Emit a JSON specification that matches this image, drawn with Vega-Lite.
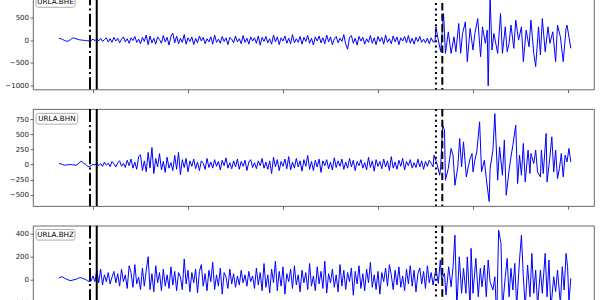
{
"$schema":"https://vega.github.io/schema/vega-lite/v6.json",
"background":"white",
"padding":{"left":0,"top":-10.5,"right":0,"bottom":0},
"spacing":19.6,
"bounds":"flush",
"config":{"view":{"stroke":"#444","strokeWidth":0.8},
"axis":{"labelFont":"DejaVu Sans","labelFontSize":7,"labelColor":"#222","tickColor":"#444","tickSize":3,"tickWidth":0.8,"labelPadding":1.5,"grid":false,"domain":false,"title":null,"labelOverlap":false,"labelFlush":false,"labelBound":false},
"axisY":{"minExtent":32,"maxExtent":32,"format":"d","labelOverlap":false},
"axisX":{"labels":false}},
"datasets":{
"picks":[{"t":-3.2,"kind":"P theoretical"},{"t":3.9,"kind":"P observed"},{"t":361,"kind":"S theoretical"},{"t":367.7,"kind":"S observed"}],
"bhe":[{"t":-36,"v":35},{"t":-34,"v":30},{"t":-32,"v":15},{"t":-30,"v":-10},{"t":-28,"v":-25},{"t":-26,"v":-20},{"t":-24,"v":5},{"t":-22,"v":40},{"t":-20,"v":45},{"t":-18,"v":30},{"t":-16,"v":15},{"t":-14,"v":5},{"t":-12,"v":0},{"t":-10,"v":-5},{"t":-8,"v":-10},{"t":-6,"v":-15},{"t":-4,"v":-20},{"t":-2,"v":-10},
{"t":0,"v":20},{"t":2,"v":-15},{"t":4,"v":30},{"t":6,"v":-20},{"t":8,"v":40},{"t":10,"v":-30},{"t":12,"v":10},{"t":14,"v":50},{"t":16,"v":-40},{"t":18,"v":30},{"t":20,"v":-50},{"t":22,"v":60},{"t":24,"v":-20},{"t":26,"v":40},{"t":28,"v":-60},{"t":30,"v":20},{"t":32,"v":70},{"t":34,"v":-40},{"t":36,"v":30},{"t":38,"v":-70},{"t":40,"v":50},{"t":42,"v":-10},{"t":44,"v":80},{"t":46,"v":-50},{"t":48,"v":20},{"t":50,"v":-80},{"t":52,"v":60},{"t":54,"v":-30},{"t":56,"v":110},{"t":58,"v":-100},{"t":60,"v":90},{"t":62,"v":-60},{"t":64,"v":40},{"t":66,"v":-90},{"t":68,"v":70},{"t":70,"v":10},{"t":72,"v":-70},{"t":74,"v":100},{"t":76,"v":-40},{"t":78,"v":60},{"t":80,"v":-110},{"t":82,"v":80},{"t":84,"v":150},{"t":86,"v":-60},{"t":88,"v":90},{"t":90,"v":-80},{"t":92,"v":40},{"t":94,"v":-50},{"t":96,"v":120},{"t":98,"v":-90},{"t":100,"v":50},{"t":102,"v":-30},{"t":104,"v":70},{"t":106,"v":-100},{"t":108,"v":40},{"t":110,"v":-60},{"t":112,"v":90},{"t":114,"v":-20},{"t":116,"v":60},{"t":118,"v":-80},{"t":120,"v":30},{"t":122,"v":-40},{"t":124,"v":70},{"t":126,"v":-90},{"t":128,"v":110},{"t":130,"v":-50},{"t":132,"v":20},{"t":134,"v":-70},{"t":136,"v":80},{"t":138,"v":-30},{"t":140,"v":50},{"t":142,"v":-100},{"t":144,"v":60},{"t":146,"v":20},{"t":148,"v":-60},{"t":150,"v":90},{"t":152,"v":-40},{"t":154,"v":30},{"t":156,"v":-80},{"t":158,"v":100},{"t":160,"v":-50},{"t":162,"v":40},{"t":164,"v":-90},{"t":166,"v":70},{"t":168,"v":-20},{"t":170,"v":50},{"t":172,"v":-70},{"t":174,"v":90},{"t":176,"v":-110},{"t":178,"v":60},{"t":180,"v":-30},{"t":182,"v":80},{"t":184,"v":-60},{"t":186,"v":30},{"t":188,"v":-90},{"t":190,"v":110},{"t":192,"v":-40},{"t":194,"v":70},{"t":196,"v":-100},{"t":198,"v":50},{"t":200,"v":-20},{"t":202,"v":90},{"t":204,"v":-70},{"t":206,"v":40},{"t":208,"v":-80},{"t":210,"v":120},{"t":212,"v":-60},{"t":214,"v":30},{"t":216,"v":-50},{"t":218,"v":80},{"t":220,"v":-90},{"t":222,"v":60},{"t":224,"v":-30},{"t":226,"v":100},{"t":228,"v":-70},{"t":230,"v":40},{"t":232,"v":-110},{"t":234,"v":70},{"t":236,"v":-20},{"t":238,"v":90},{"t":240,"v":-60},{"t":242,"v":50},{"t":244,"v":-80},{"t":246,"v":110},{"t":248,"v":-40},{"t":250,"v":70},{"t":252,"v":-100},{"t":254,"v":30},{"t":256,"v":80},{"t":258,"v":-60},{"t":260,"v":40},{"t":262,"v":-30},{"t":264,"v":120},{"t":266,"v":-90},{"t":268,"v":-200},{"t":270,"v":60},{"t":272,"v":100},{"t":274,"v":-70},{"t":276,"v":40},{"t":278,"v":-110},{"t":280,"v":80},{"t":282,"v":-20},{"t":284,"v":60},{"t":286,"v":-90},{"t":288,"v":30},{"t":290,"v":-50},{"t":292,"v":100},{"t":294,"v":-70},{"t":296,"v":50},{"t":298,"v":-100},{"t":300,"v":80},{"t":302,"v":-30},{"t":304,"v":60},{"t":306,"v":-90},{"t":308,"v":110},{"t":310,"v":-50},{"t":312,"v":30},{"t":314,"v":-80},{"t":316,"v":90},{"t":318,"v":-40},{"t":320,"v":70},{"t":322,"v":-100},{"t":324,"v":50},{"t":326,"v":-20},{"t":328,"v":80},{"t":330,"v":-60},{"t":332,"v":100},{"t":334,"v":-70},{"t":336,"v":40},{"t":338,"v":-90},{"t":340,"v":60},{"t":342,"v":-30},{"t":344,"v":80},{"t":346,"v":-50},{"t":348,"v":20},{"t":350,"v":-60},{"t":352,"v":40},{"t":354,"v":-80},{"t":356,"v":50},{"t":358,"v":-40},
{"t":360,"v":-40},{"t":361,"v":290},{"t":363,"v":50},{"t":366,"v":-254},{"t":369,"v":580},{"t":371,"v":-290},{"t":374,"v":180},{"t":377,"v":-290},{"t":380,"v":72},{"t":382,"v":-254},{"t":385,"v":363},{"t":387,"v":-290},{"t":389,"v":145},{"t":392,"v":398},{"t":394,"v":-471},{"t":397,"v":254},{"t":400,"v":-217},{"t":402,"v":145},{"t":405,"v":471},{"t":408,"v":-362},{"t":410,"v":290},{"t":413,"v":-72},{"t":415,"v":217},{"t":416,"v":-1000},{"t":418,"v":950},{"t":420,"v":-217},{"t":422,"v":145},{"t":426,"v":-290},{"t":429,"v":580},{"t":431,"v":-290},{"t":434,"v":290},{"t":436,"v":-254},{"t":438,"v":-72},{"t":440,"v":326},{"t":443,"v":-181},{"t":445,"v":435},{"t":448,"v":0},{"t":451,"v":290},{"t":453,"v":-471},{"t":456,"v":217},{"t":459,"v":-145},{"t":461,"v":435},{"t":464,"v":-290},{"t":466,"v":-580},{"t":469,"v":290},{"t":471,"v":-326},{"t":473,"v":471},{"t":476,"v":-254},{"t":479,"v":290},{"t":481,"v":-72},{"t":484,"v":181},{"t":487,"v":-471},{"t":489,"v":326},{"t":492,"v":72},{"t":495,"v":-471},{"t":498,"v":254},{"t":499,"v":326},{"t":503,"v":-181}],
"bhn":[{"t":-36,"v":17},{"t":-34,"v":10},{"t":-32,"v":0},{"t":-30,"v":-12},{"t":-28,"v":-8},{"t":-26,"v":-3},{"t":-24,"v":0},{"t":-22,"v":-5},{"t":-20,"v":-10},{"t":-18,"v":-12},{"t":-16,"v":5},{"t":-14,"v":40},{"t":-12,"v":55},{"t":-10,"v":20},{"t":-8,"v":5},{"t":-6,"v":-25},{"t":-4,"v":-40},{"t":-2,"v":-20},{"t":0,"v":5},
{"t":2,"v":-10},{"t":4,"v":25},{"t":6,"v":-20},{"t":8,"v":15},{"t":10,"v":-30},{"t":12,"v":40},{"t":14,"v":-10},{"t":16,"v":20},{"t":18,"v":-35},{"t":20,"v":50},{"t":22,"v":10},{"t":24,"v":-40},{"t":26,"v":30},{"t":28,"v":60},{"t":30,"v":-30},{"t":32,"v":20},{"t":34,"v":-50},{"t":36,"v":70},{"t":38,"v":-20},{"t":40,"v":90},{"t":42,"v":-60},{"t":44,"v":40},{"t":46,"v":-80},{"t":48,"v":130},{"t":50,"v":160},{"t":52,"v":-100},{"t":54,"v":60},{"t":56,"v":-120},{"t":58,"v":200},{"t":60,"v":-60},{"t":62,"v":280},{"t":64,"v":-150},{"t":66,"v":100},{"t":68,"v":-40},{"t":70,"v":180},{"t":72,"v":-90},{"t":74,"v":50},{"t":76,"v":-130},{"t":78,"v":120},{"t":80,"v":-60},{"t":82,"v":30},{"t":84,"v":-100},{"t":86,"v":150},{"t":88,"v":-80},{"t":90,"v":200},{"t":92,"v":-170},{"t":94,"v":80},{"t":96,"v":-50},{"t":98,"v":100},{"t":100,"v":-120},{"t":102,"v":60},{"t":104,"v":-30},{"t":106,"v":90},{"t":108,"v":-70},{"t":110,"v":40},{"t":112,"v":-100},{"t":114,"v":60},{"t":116,"v":20},{"t":118,"v":-80},{"t":120,"v":100},{"t":122,"v":-50},{"t":124,"v":40},{"t":126,"v":-60},{"t":128,"v":80},{"t":130,"v":-30},{"t":132,"v":50},{"t":134,"v":-90},{"t":136,"v":70},{"t":138,"v":-20},{"t":140,"v":110},{"t":142,"v":-60},{"t":144,"v":30},{"t":146,"v":-70},{"t":148,"v":60},{"t":150,"v":-40},{"t":152,"v":90},{"t":154,"v":-80},{"t":156,"v":50},{"t":158,"v":-30},{"t":160,"v":70},{"t":162,"v":-100},{"t":164,"v":40},{"t":166,"v":80},{"t":168,"v":-50},{"t":170,"v":30},{"t":172,"v":-70},{"t":174,"v":60},{"t":176,"v":-20},{"t":178,"v":100},{"t":180,"v":-60},{"t":182,"v":40},{"t":184,"v":-80},{"t":186,"v":60},{"t":188,"v":-150},{"t":190,"v":120},{"t":192,"v":-40},{"t":194,"v":80},{"t":196,"v":-100},{"t":198,"v":50},{"t":200,"v":-30},{"t":202,"v":90},{"t":204,"v":-70},{"t":206,"v":130},{"t":208,"v":-90},{"t":210,"v":40},{"t":212,"v":-60},{"t":214,"v":100},{"t":216,"v":-40},{"t":218,"v":60},{"t":220,"v":-110},{"t":222,"v":80},{"t":224,"v":-30},{"t":226,"v":150},{"t":228,"v":-80},{"t":230,"v":50},{"t":232,"v":-100},{"t":234,"v":70},{"t":236,"v":-40},{"t":238,"v":90},{"t":240,"v":-130},{"t":242,"v":60},{"t":244,"v":-20},{"t":246,"v":80},{"t":248,"v":-70},{"t":250,"v":40},{"t":252,"v":-90},{"t":254,"v":110},{"t":256,"v":-50},{"t":258,"v":60},{"t":260,"v":-30},{"t":262,"v":90},{"t":264,"v":-80},{"t":266,"v":40},{"t":268,"v":-60},{"t":270,"v":100},{"t":272,"v":-40},{"t":274,"v":70},{"t":276,"v":-100},{"t":278,"v":50},{"t":280,"v":-20},{"t":282,"v":80},{"t":284,"v":-60},{"t":286,"v":30},{"t":288,"v":-90},{"t":290,"v":120},{"t":292,"v":-50},{"t":294,"v":60},{"t":296,"v":-110},{"t":298,"v":80},{"t":300,"v":-30},{"t":302,"v":50},{"t":304,"v":-70},{"t":306,"v":90},{"t":308,"v":-40},{"t":310,"v":60},{"t":312,"v":-100},{"t":314,"v":130},{"t":316,"v":-60},{"t":318,"v":40},{"t":320,"v":-80},{"t":322,"v":70},{"t":324,"v":-30},{"t":326,"v":100},{"t":328,"v":-90},{"t":330,"v":50},{"t":332,"v":-20},{"t":334,"v":80},{"t":336,"v":-60},{"t":338,"v":30},{"t":340,"v":-50},{"t":342,"v":90},{"t":344,"v":-40},{"t":346,"v":60},{"t":348,"v":-80},{"t":350,"v":50},{"t":352,"v":-30},{"t":354,"v":70},{"t":356,"v":20},{"t":358,"v":-40},
{"t":359,"v":154},{"t":362,"v":17},{"t":365,"v":-177},{"t":366,"v":-40},{"t":368,"v":650},{"t":370,"v":568},{"t":371,"v":-260},{"t":374,"v":-66},{"t":377,"v":265},{"t":379,"v":154},{"t":381,"v":-343},{"t":384,"v":-40},{"t":386,"v":430},{"t":388,"v":-40},{"t":390,"v":374},{"t":393,"v":-205},{"t":395,"v":-40},{"t":397,"v":99},{"t":399,"v":182},{"t":400,"v":-122},{"t":402,"v":71},{"t":404,"v":209},{"t":407,"v":705},{"t":409,"v":-122},{"t":412,"v":71},{"t":414,"v":-232},{"t":417,"v":-610},{"t":418,"v":-66},{"t":421,"v":237},{"t":423,"v":840},{"t":426,"v":-260},{"t":428,"v":291},{"t":431,"v":-177},{"t":433,"v":402},{"t":435,"v":-508},{"t":438,"v":-94},{"t":440,"v":126},{"t":442,"v":320},{"t":445,"v":650},{"t":447,"v":-315},{"t":449,"v":154},{"t":451,"v":-177},{"t":453,"v":348},{"t":455,"v":-288},{"t":458,"v":237},{"t":460,"v":-149},{"t":461,"v":182},{"t":464,"v":17},{"t":466,"v":237},{"t":468,"v":-122},{"t":471,"v":-205},{"t":472,"v":237},{"t":474,"v":-149},{"t":477,"v":513},{"t":478,"v":-288},{"t":481,"v":126},{"t":483,"v":457},{"t":485,"v":-122},{"t":487,"v":237},{"t":489,"v":-232},{"t":491,"v":-66},{"t":493,"v":182},{"t":495,"v":-205},{"t":497,"v":154},{"t":499,"v":43},{"t":501,"v":265},{"t":503,"v":43}],
"bhz":[{"t":-36,"v":10},{"t":-34,"v":20},{"t":-32,"v":22},{"t":-30,"v":10},{"t":-28,"v":2},{"t":-26,"v":-5},{"t":-24,"v":-12},{"t":-22,"v":-8},{"t":-20,"v":-3},{"t":-18,"v":0},{"t":-16,"v":8},{"t":-14,"v":15},{"t":-12,"v":12},{"t":-10,"v":5},{"t":-8,"v":0},{"t":-6,"v":-10},{"t":-4,"v":-20},{"t":-2,"v":-15},
{"t":0,"v":30},{"t":2,"v":-20},{"t":4,"v":80},{"t":6,"v":-30},{"t":8,"v":90},{"t":10,"v":-50},{"t":12,"v":40},{"t":14,"v":-20},{"t":16,"v":60},{"t":18,"v":-40},{"t":20,"v":20},{"t":22,"v":70},{"t":24,"v":-30},{"t":26,"v":50},{"t":28,"v":-60},{"t":30,"v":90},{"t":32,"v":-20},{"t":34,"v":40},{"t":36,"v":-80},{"t":38,"v":120},{"t":40,"v":60},{"t":42,"v":-70},{"t":44,"v":130},{"t":46,"v":-40},{"t":48,"v":20},{"t":50,"v":-90},{"t":52,"v":100},{"t":54,"v":-60},{"t":56,"v":80},{"t":58,"v":200},{"t":60,"v":-90},{"t":62,"v":50},{"t":64,"v":-110},{"t":66,"v":120},{"t":68,"v":-30},{"t":70,"v":60},{"t":72,"v":-100},{"t":74,"v":90},{"t":76,"v":-60},{"t":78,"v":40},{"t":80,"v":-80},{"t":82,"v":110},{"t":84,"v":-50},{"t":86,"v":70},{"t":88,"v":-100},{"t":90,"v":60},{"t":92,"v":20},{"t":94,"v":-90},{"t":96,"v":180},{"t":98,"v":-40},{"t":100,"v":80},{"t":102,"v":-110},{"t":104,"v":60},{"t":106,"v":-30},{"t":108,"v":90},{"t":110,"v":-120},{"t":112,"v":70},{"t":114,"v":130},{"t":116,"v":-60},{"t":118,"v":50},{"t":120,"v":-100},{"t":122,"v":80},{"t":124,"v":-20},{"t":126,"v":150},{"t":128,"v":-90},{"t":130,"v":40},{"t":132,"v":-60},{"t":134,"v":100},{"t":136,"v":-130},{"t":138,"v":60},{"t":140,"v":20},{"t":142,"v":-80},{"t":144,"v":90},{"t":146,"v":-40},{"t":148,"v":50},{"t":150,"v":-70},{"t":152,"v":30},{"t":154,"v":-50},{"t":156,"v":80},{"t":158,"v":-30},{"t":160,"v":40},{"t":162,"v":-60},{"t":164,"v":70},{"t":166,"v":-20},{"t":168,"v":30},{"t":170,"v":-80},{"t":172,"v":100},{"t":174,"v":-50},{"t":176,"v":60},{"t":178,"v":-100},{"t":180,"v":140},{"t":182,"v":-70},{"t":184,"v":40},{"t":186,"v":-120},{"t":188,"v":90},{"t":190,"v":-30},{"t":192,"v":160},{"t":194,"v":-100},{"t":196,"v":70},{"t":198,"v":-60},{"t":200,"v":110},{"t":202,"v":-130},{"t":204,"v":50},{"t":206,"v":-20},{"t":208,"v":90},{"t":210,"v":-80},{"t":212,"v":120},{"t":214,"v":-50},{"t":216,"v":40},{"t":218,"v":-110},{"t":220,"v":80},{"t":222,"v":-30},{"t":224,"v":60},{"t":226,"v":-90},{"t":228,"v":140},{"t":230,"v":-60},{"t":232,"v":30},{"t":234,"v":-100},{"t":236,"v":110},{"t":238,"v":-40},{"t":240,"v":70},{"t":242,"v":-80},{"t":244,"v":160},{"t":246,"v":-120},{"t":248,"v":50},{"t":250,"v":-30},{"t":252,"v":90},{"t":254,"v":-70},{"t":256,"v":40},{"t":258,"v":-110},{"t":260,"v":130},{"t":262,"v":-60},{"t":264,"v":80},{"t":266,"v":-90},{"t":268,"v":60},{"t":270,"v":-20},{"t":272,"v":100},{"t":274,"v":-140},{"t":276,"v":70},{"t":278,"v":-40},{"t":280,"v":120},{"t":282,"v":-80},{"t":284,"v":50},{"t":286,"v":-100},{"t":288,"v":90},{"t":290,"v":-30},{"t":292,"v":150},{"t":294,"v":-70},{"t":296,"v":40},{"t":298,"v":-90},{"t":300,"v":70},{"t":302,"v":-130},{"t":304,"v":60},{"t":306,"v":-20},{"t":308,"v":100},{"t":310,"v":-60},{"t":312,"v":130},{"t":314,"v":40},{"t":316,"v":-90},{"t":318,"v":80},{"t":320,"v":-50},{"t":322,"v":110},{"t":324,"v":-70},{"t":326,"v":30},{"t":328,"v":-100},{"t":330,"v":90},{"t":332,"v":-40},{"t":334,"v":120},{"t":336,"v":-60},{"t":338,"v":80},{"t":340,"v":-110},{"t":342,"v":50},{"t":344,"v":100},{"t":346,"v":-40},{"t":348,"v":70},{"t":350,"v":-80},{"t":352,"v":120},{"t":354,"v":-30},{"t":356,"v":60},{"t":358,"v":-50},
{"t":361,"v":97},{"t":363.5,"v":-35},{"t":365.6,"v":170},{"t":367,"v":-6},{"t":370,"v":53},{"t":371.6,"v":-138},{"t":374.4,"v":111},{"t":377,"v":-65},{"t":379,"v":111},{"t":381,"v":390},{"t":383,"v":-250},{"t":385.6,"v":199},{"t":388,"v":-123},{"t":390,"v":97},{"t":392.6,"v":-123},{"t":394,"v":199},{"t":397,"v":-250},{"t":398,"v":273},{"t":400,"v":-123},{"t":403,"v":185},{"t":405.6,"v":-153},{"t":407.7,"v":97},{"t":409.5,"v":-65},{"t":412,"v":126},{"t":414,"v":-153},{"t":416,"v":170},{"t":418,"v":-21},{"t":421,"v":-94},{"t":423,"v":23},{"t":425,"v":-340},{"t":427,"v":434},{"t":429.5,"v":317},{"t":431,"v":-260},{"t":434,"v":23},{"t":436,"v":185},{"t":438,"v":-153},{"t":440,"v":97},{"t":442,"v":-94},{"t":444,"v":141},{"t":446,"v":-240},{"t":449,"v":170},{"t":451,"v":390},{"t":453,"v":23},{"t":455,"v":-250},{"t":457.5,"v":126},{"t":460,"v":-153},{"t":462,"v":229},{"t":464,"v":-123},{"t":466,"v":82},{"t":468,"v":-230},{"t":471,"v":82},{"t":473,"v":-123},{"t":476,"v":229},{"t":478,"v":-153},{"t":480,"v":170},{"t":482,"v":-260},{"t":485,"v":23},{"t":487,"v":-108},{"t":489,"v":82},{"t":492,"v":-220},{"t":494,"v":111},{"t":496,"v":-94},{"t":498,"v":229},{"t":499.6,"v":111},{"t":501,"v":-200},{"t":503,"v":9}]
},
"vconcat":[
{"width":561,"height":97,
"layer":[
{"data":{"name":"bhe"},"mark":{"type":"line","color":"#0000ff","strokeWidth":1,"clip":true},
"encoding":{"x":{"field":"t","type":"quantitative","scale":{"domain":[-63.2,527.4],"nice":false,"zero":false},"axis":{"values":[0,100,200,300,400,500],"tickCount":20,"labels":false}},
"y":{"field":"v","type":"quantitative","scale":{"domain":[-1080,1040],"nice":false,"zero":false},"axis":{"values":[-1000,-500,0,500,1000],"tickCount":20,"labelOverlap":false,"labelFlush":false}}}},
{"data":{"name":"picks"},"mark":{"type":"rule","color":"black","strokeWidth":2},
"encoding":{"x":{"field":"t","type":"quantitative"},"strokeDash":{"field":"kind","type":"nominal","legend":null,"scale":{"domain":["P theoretical","P observed","S theoretical","S observed"],"range":[[12.8,3.2,2,3.2],[1,0],[2,3.3],[7.4,3.2]]}}}},
{"data":{"values":[{"station":"URLA.BHE"}]},"mark":{"type":"rect","fill":"white","stroke":"#999","strokeWidth":0.8,"cornerRadius":2,"clip":true},
"encoding":{"x":{"datum":-60},"x2":{"datum":-18.9},"y":{"datum":950},"y2":{"datum":717}}},
{"data":{"values":[{"station":"URLA.BHE"}]},"mark":{"type":"text","font":"DejaVu Sans","fontSize":7.2,"color":"black","clip":true},
"encoding":{"x":{"datum":-39.5},"y":{"datum":834},"text":{"field":"station"}}}
]},
{"width":561,"height":97,
"layer":[
{"data":{"name":"bhn"},"mark":{"type":"line","color":"#0000ff","strokeWidth":1,"clip":true},
"encoding":{"x":{"field":"t","type":"quantitative","scale":{"domain":[-63.2,527.4],"nice":false,"zero":false},"axis":{"values":[0,100,200,300,400,500],"tickCount":20,"labels":false}},
"y":{"field":"v","type":"quantitative","scale":{"domain":[-687,915],"nice":false,"zero":false},"axis":{"values":[-500,-250,0,250,500,750],"tickCount":20,"labelOverlap":false,"labelFlush":false}}}},
{"data":{"name":"picks"},"mark":{"type":"rule","color":"black","strokeWidth":2},
"encoding":{"x":{"field":"t","type":"quantitative"},"strokeDash":{"field":"kind","type":"nominal","legend":null,"scale":{"domain":["P theoretical","P observed","S theoretical","S observed"],"range":[[12.8,3.2,2,3.2],[1,0],[2,3.3],[7.4,3.2]]}}}},
{"data":{"values":[{"station":"URLA.BHN"}]},"mark":{"type":"rect","fill":"white","stroke":"#999","strokeWidth":0.8,"cornerRadius":2,"clip":true},
"encoding":{"x":{"datum":-60},"x2":{"datum":-16.1},"y":{"datum":845},"y2":{"datum":667}}},
{"data":{"values":[{"station":"URLA.BHN"}]},"mark":{"type":"text","font":"DejaVu Sans","fontSize":7.2,"color":"black","clip":true},
"encoding":{"x":{"datum":-38},"y":{"datum":756},"text":{"field":"station"}}}
]},
{"width":561,"height":97,
"layer":[
{"data":{"name":"bhz"},"mark":{"type":"line","color":"#0000ff","strokeWidth":1,"clip":true},
"encoding":{"x":{"field":"t","type":"quantitative","scale":{"domain":[-63.2,527.4],"nice":false,"zero":false},"axis":{"values":[0,100,200,300,400,500],"tickCount":20,"labels":false}},
"y":{"field":"v","type":"quantitative","scale":{"domain":[-382,473],"nice":false,"zero":false},"axis":{"values":[-200,0,200,400],"tickCount":20,"labelOverlap":false,"labelFlush":false}}}},
{"data":{"name":"picks"},"mark":{"type":"rule","color":"black","strokeWidth":2},
"encoding":{"x":{"field":"t","type":"quantitative"},"strokeDash":{"field":"kind","type":"nominal","legend":null,"scale":{"domain":["P theoretical","P observed","S theoretical","S observed"],"range":[[12.8,3.2,2,3.2],[1,0],[2,3.3],[7.4,3.2]]}}}},
{"data":{"values":[{"station":"URLA.BHZ"}]},"mark":{"type":"rect","fill":"white","stroke":"#999","strokeWidth":0.8,"cornerRadius":2,"clip":true},
"encoding":{"x":{"datum":-60},"x2":{"datum":-18.9},"y":{"datum":440},"y2":{"datum":346}}},
{"data":{"values":[{"station":"URLA.BHZ"}]},"mark":{"type":"text","font":"DejaVu Sans","fontSize":7.2,"color":"black","clip":true},
"encoding":{"x":{"datum":-39.5},"y":{"datum":393},"text":{"field":"station"}}}
]}
]
}
